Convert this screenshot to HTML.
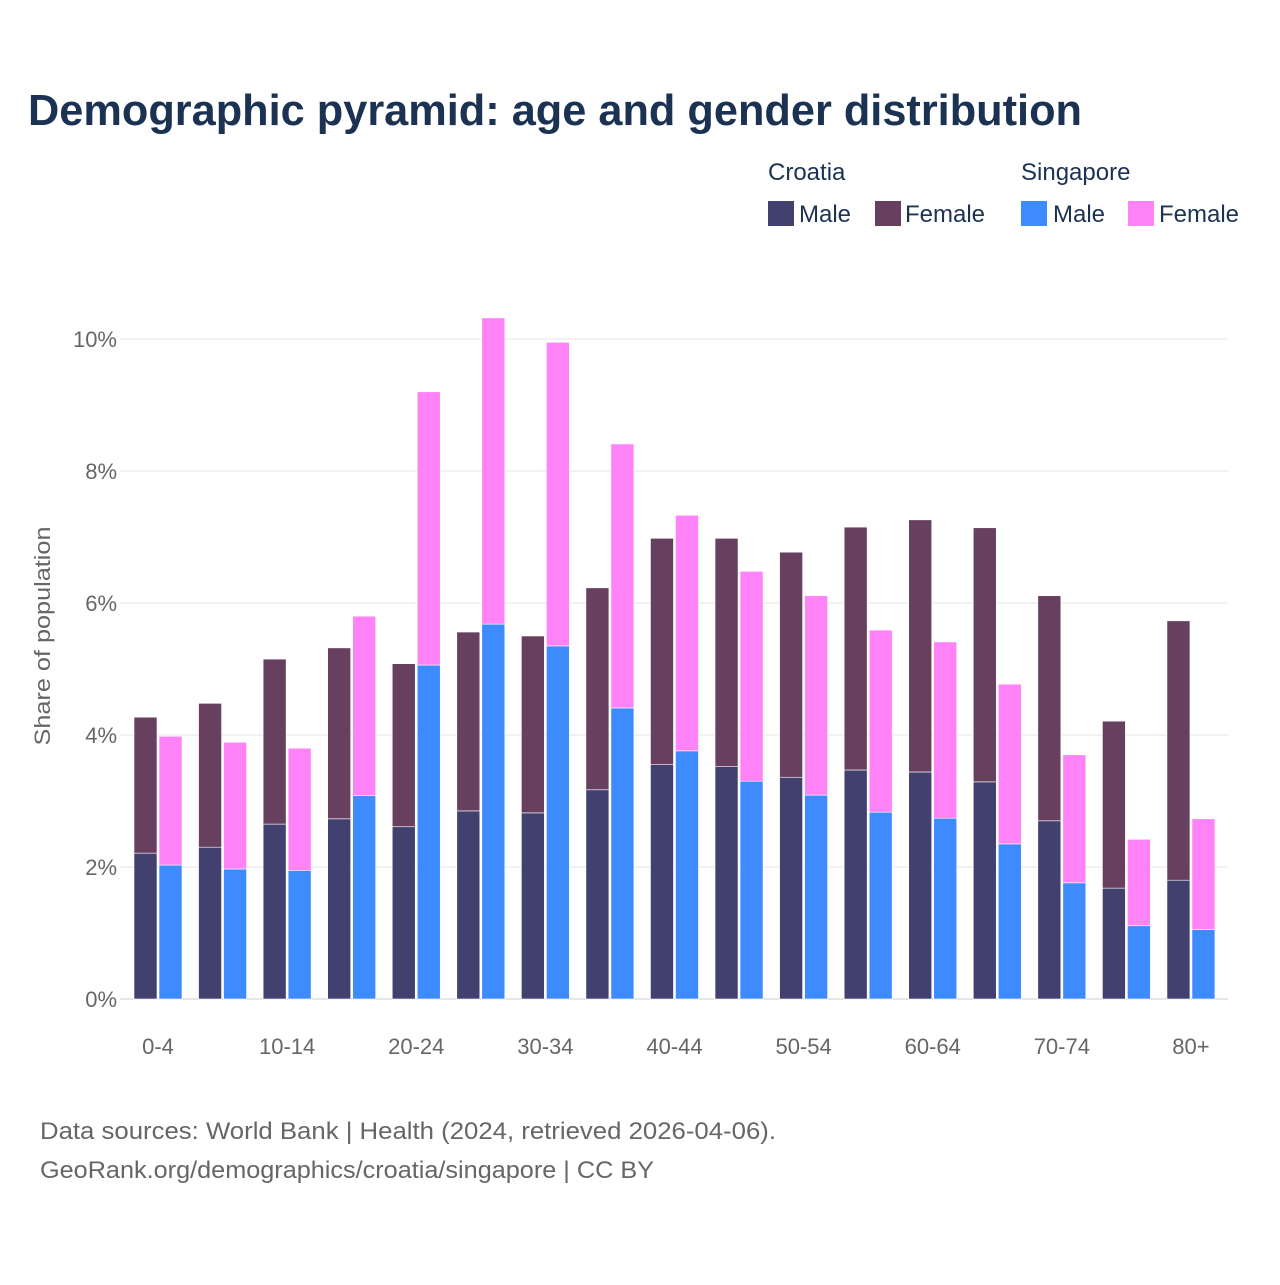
<!DOCTYPE html>
<html><head><meta charset="utf-8"><style>
body{margin:0;background:#fff;font-family:"Liberation Sans",sans-serif;}
</style></head><body>
<svg width="1280" height="1280" xmlns="http://www.w3.org/2000/svg">
<rect width="1280" height="1280" fill="#fff"/>
<text x="28" y="125" font-size="44" font-weight="bold" fill="#1b3252" textLength="1054" lengthAdjust="spacingAndGlyphs">Demographic pyramid: age and gender distribution</text>
<g font-size="24" fill="#1b3252">
<text x="768" y="180">Croatia</text>
<text x="1021" y="180">Singapore</text>
<g><rect x="768" y="201" width="26" height="25" fill="#41406f"/><text x="799" y="222">Male</text></g>
<g><rect x="875" y="201" width="26" height="25" fill="#673f5f"/><text x="905" y="222">Female</text></g>
<g><rect x="1021" y="201" width="26" height="25" fill="#3d8bff"/><text x="1053" y="222">Male</text></g>
<g><rect x="1128" y="201" width="26" height="25" fill="#ff82f6"/><text x="1159" y="222">Female</text></g>
</g>
<g id="grid"></g>
<g id="bars"></g>
<g id="axes" font-size="22" fill="#666"></g>
<text transform="translate(50,636) rotate(-90)" text-anchor="middle" font-size="22" fill="#666" textLength="219" lengthAdjust="spacingAndGlyphs">Share of population</text>
<text x="40" y="1139" font-size="24" fill="#666" textLength="736" lengthAdjust="spacingAndGlyphs">Data sources: World Bank | Health (2024, retrieved 2026-04-06).</text>
<text x="40" y="1178" font-size="24" fill="#666" textLength="614" lengthAdjust="spacingAndGlyphs">GeoRank.org/demographics/croatia/singapore | CC BY</text>
</svg>
<script>
const categories=["0-4","5-9","10-14","15-19","20-24","25-29","30-34","35-39","40-44","45-49","50-54","55-59","60-64","65-69","70-74","75-79","80+"];
const croatiaMale=[2.21,2.30,2.65,2.73,2.61,2.85,2.82,3.17,3.55,3.52,3.36,3.47,3.44,3.29,2.70,1.68,1.80];
const croatiaFemale=[2.06,2.18,2.50,2.59,2.47,2.71,2.68,3.06,3.43,3.46,3.41,3.68,3.82,3.85,3.41,2.53,3.93];
const singaporeMale=[2.03,1.97,1.95,3.08,5.06,5.68,5.35,4.41,3.76,3.30,3.09,2.83,2.74,2.35,1.76,1.11,1.05];
const singaporeFemale=[1.95,1.92,1.85,2.72,4.14,4.64,4.60,4.00,3.57,3.18,3.02,2.76,2.67,2.42,1.94,1.31,1.68];
const yTicks=[0,2,4,6,8,10];
const NS="http://www.w3.org/2000/svg";
const y=v=>999-v*66;
const step=64.56;
const xc=i=>158+i*step;
function mk(tag,attrs,parent){const e=document.createElementNS(NS,tag);for(const k in attrs)e.setAttribute(k,attrs[k]);parent.appendChild(e);return e;}
const grid=document.getElementById('grid'),bars=document.getElementById('bars'),axes=document.getElementById('axes');
yTicks.forEach(t=>{
  const l=mk('line',{x1:120,x2:1228,y1:y(t),y2:y(t),stroke:t===0?'#ccc':'#e6e6e6','stroke-width':1},grid);
  
  
  const tx=mk('text',{x:117,y:y(t)+8,'text-anchor':'end'},axes);
  tx.textContent=t+'%';
  
  
});
categories.forEach((c,i)=>{
  const cx=xc(i);
  const segs=[[cx-24,0,croatiaMale[i],'#41406f','croatia-male'],[cx-24,croatiaMale[i],croatiaFemale[i],'#673f5f','croatia-female'],
              [cx+1,0,singaporeMale[i],'#3d8bff','singapore-male'],[cx+1,singaporeMale[i],singaporeFemale[i],'#ff82f6','singapore-female']];
  segs.forEach(s=>{
    const r=mk('rect',{x:s[0],y:y(s[1]+s[2]),width:23,height:s[2]*66,fill:s[3],stroke:'#fff','stroke-width':0.6},bars);
    
    
  });
  if(i%2===0){
    const t=mk('text',{x:cx,y:1054,'text-anchor':'middle'},axes);
    t.textContent=c;
    
    
  }
});
</script>
</body></html>
